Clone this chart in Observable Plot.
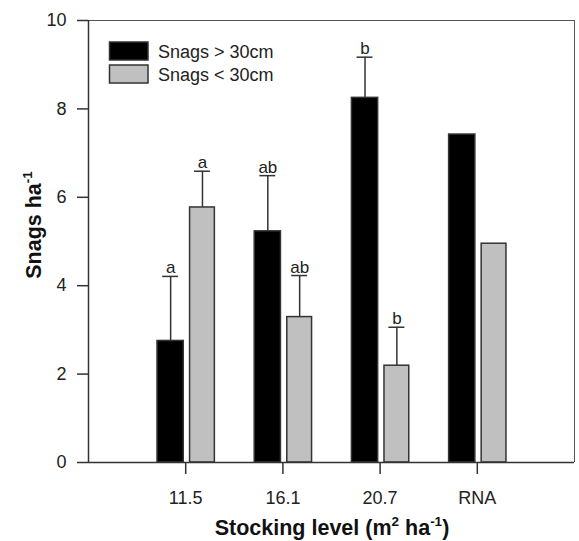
<!DOCTYPE html>
<html>
<head>
<meta charset="utf-8">
<script src="https://cdn.jsdelivr.net/npm/d3@7"></script>
<script src="https://cdn.jsdelivr.net/npm/@observablehq/plot@0.6"></script>
<style>
  body { margin: 0; background: #fff; }
  #chart { position: relative; width: 579px; height: 541px; }
</style>
</head>
<body>
<div id="chart"></div>
<script>
// ---- data ----
const categories = ["11.5", "16.1", "20.7", "RNA"];
const seriesNames = ["Snags > 30cm", "Snags < 30cm"];
const largeValues = [2.75, 5.23, 8.25, 7.42];
const largeErrTop = [4.21, 6.49, 9.17, null];
const largeLetters = ["a", "ab", "b", ""];
const smallValues = [5.77, 3.29, 2.19, 4.95];
const smallErrTop = [6.59, 4.23, 3.06, null];
const smallLetters = ["a", "ab", "b", ""];
const yTicks = [0, 2, 4, 6, 8, 10];

// ---- layout (bar placement within a category slot) ----
const offsets = { "Snags > 30cm": [-0.29, -0.02], "Snags < 30cm": [0.045, 0.30] };
const fills = { "Snags > 30cm": "#000000", "Snags < 30cm": "#c0c0c0" };
const capHalf = 0.082;

const rows = [];
categories.forEach((c, i) => {
  rows.push({cat: c, pos: i + 1, series: seriesNames[0], value: largeValues[i], err: largeErrTop[i], letter: largeLetters[i]});
  rows.push({cat: c, pos: i + 1, series: seriesNames[1], value: smallValues[i], err: smallErrTop[i], letter: smallLetters[i]});
});
rows.forEach(d => {
  const [a, b] = offsets[d.series];
  d.x1 = d.pos + a; d.x2 = d.pos + b; d.xc = (d.x1 + d.x2) / 2;
});
const errRows = rows.filter(d => d.err != null);

const FONT = "Liberation Sans, Arial, sans-serif";

const plot = Plot.plot({
  width: 579,
  height: 541,
  marginLeft: 88,
  marginTop: 20,
  marginRight: 5,
  marginBottom: 79,
  style: { fontFamily: FONT, background: "#fff", overflow: "visible" },
  x: { type: "linear", domain: [0, 5] },
  y: { domain: [0, 10] },
  marks: [
    Plot.ruleY([10], { stroke: "#555", strokeWidth: 1 }),
    Plot.ruleX([5], { stroke: "#555", strokeWidth: 1 }),
    Plot.rect(rows, {
      x1: "x1", x2: "x2", y1: 0, y2: "value",
      fill: d => fills[d.series], stroke: "#333", strokeWidth: 1.5
    }),
    Plot.ruleX(errRows, { x: "xc", y1: "value", y2: "err", stroke: "#333", strokeWidth: 1.5 }),
    Plot.ruleY(errRows, { y: "err", x1: d => d.xc - capHalf, x2: d => d.xc + capHalf, stroke: "#333", strokeWidth: 1.5 }),
    Plot.text(errRows, {
      x: "xc", y: "err", text: "letter", dy: -3, lineAnchor: "bottom",
      fontSize: 17, fill: "#222", fontFamily: FONT
    }),
    Plot.axisY({
      ticks: yTicks, tickSize: 11, tickPadding: 11, fontSize: 18, label: null,
      stroke: "#333", strokeWidth: 1.5, color: "#222"
    }),
    Plot.axisX({
      ticks: [1, 2, 3, 4], tickFormat: d => categories[d - 1], tickSize: 12, tickPadding: 17,
      fontSize: 18, label: null, stroke: "#333", strokeWidth: 1.5, color: "#222"
    }),
    Plot.ruleX([0], { stroke: "#333", strokeWidth: 1.5 }),
    Plot.ruleY([0], { stroke: "#333", strokeWidth: 1.5 })
  ]
});

document.getElementById("chart").appendChild(plot);

// ---- titles and legend ----
const svg = d3.select(plot);

// x title
const xt = svg.append("text")
  .attr("x", 332).attr("y", 535)
  .attr("text-anchor", "middle")
  .attr("font-family", FONT).attr("font-weight", "bold").attr("font-size", 21.5).attr("fill", "#111");
xt.append("tspan").text("Stocking level (m");
xt.append("tspan").attr("dy", -9).attr("font-size", 13.5).text("2");
xt.append("tspan").attr("dy", 9).text(" ha");
xt.append("tspan").attr("dy", -9).attr("font-size", 13.5).text("-1");
xt.append("tspan").attr("dy", 9).text(")");

// y title
const yt = svg.append("text")
  .attr("transform", "translate(41,225) rotate(-90)")
  .attr("text-anchor", "middle")
  .attr("font-family", FONT).attr("font-weight", "bold").attr("font-size", 21.5).attr("fill", "#111");
yt.append("tspan").text("Snags ha");
yt.append("tspan").attr("dy", -9).attr("font-size", 13.5).text("-1");

// legend
const lg = svg.append("g").attr("font-family", FONT).attr("font-size", 18).attr("fill", "#222")
  .attr("text-anchor", "start");
seriesNames.forEach((s, i) => {
  const y0 = 42 + i * 23;
  lg.append("rect").attr("x", 109.5).attr("y", y0).attr("width", 38.5).attr("height", 18)
    .attr("fill", fills[s]).attr("stroke", "#333").attr("stroke-width", 1.5);
  lg.append("text").attr("x", 158).attr("y", y0 + 15.5).attr("text-anchor", "start").text(s);
});
</script>
</body>
</html>
